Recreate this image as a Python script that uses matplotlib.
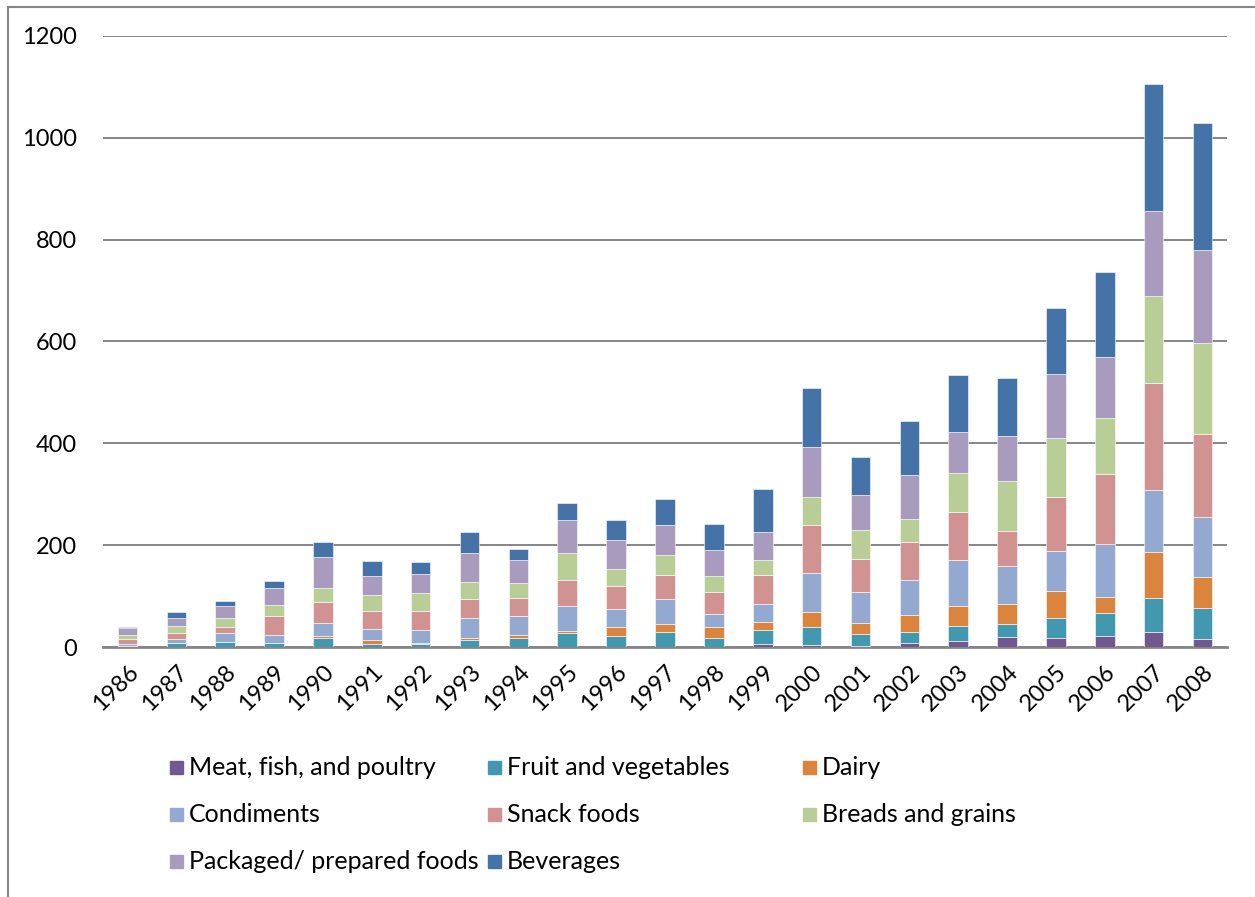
import matplotlib.pyplot as plt
import matplotlib
import numpy as np
from matplotlib.lines import Line2D
from matplotlib.patches import Rectangle

matplotlib.rcParams['font.family'] = ['Lato', 'DejaVu Sans']

years = [str(y) for y in range(1986, 2009)]

series_names = [
    "Meat, fish, and poultry", "Fruit and vegetables", "Dairy",
    "Condiments", "Snack foods", "Breads and grains",
    "Packaged/ prepared foods", "Beverages",
]

meat = [0, 0, 0, 0, 0, 0, 0, 0, 0, 0, 0, 0, 0, 6.5,
        4, 2, 7, 12.5, 19, 17.5, 22, 30, 16]
fruit = [2, 8, 9, 7, 18, 6.5, 5, 14, 18, 28, 22, 29.5, 18, 27.5,
         35, 23, 23, 29.5, 25.5, 40, 44, 67, 60]
dairy = [0, 0, 0, 0, 4.5, 6.5, 3, 3, 5, 3, 18, 15, 22, 15,
         29.5, 22, 33.5, 38, 40, 53, 33, 90, 62]
condiments = [3, 7, 18, 17, 25, 23, 25, 40, 37, 50, 35, 50, 25, 36,
              77, 61, 67.5, 91, 75, 78, 104, 122, 118]
snack = [10, 12, 12, 36, 41, 34, 37, 37, 36, 51, 45, 47, 43, 56,
         94, 64, 75, 94, 69, 106, 136, 210, 162]
breads = [8.5, 15, 18, 23, 27.5, 33, 36, 33, 30, 52, 33, 39, 31, 29,
          56, 58, 45, 77, 97, 115.5, 110.5, 170, 179]
packaged = [13, 14, 24, 32, 60, 37, 37, 58, 44, 65.5, 57, 59, 52, 56,
            97, 69, 87, 81, 89, 126.5, 120, 167, 182.5]
beverages = [2, 12, 8.5, 14, 31, 29.5, 23, 41, 23, 33, 39, 51, 50, 84.5,
             115.5, 75, 105, 112, 114, 129.4, 167, 250, 250]

colors = ["#71588F", "#4198AF", "#DB843D", "#93A9CF",
          "#D19392", "#B9CD96", "#A99BBD", "#4572A7"]

W, H = 1255, 897


def main():
    fig = plt.figure(figsize=(W / 100, H / 100), dpi=100)
    ax = fig.add_axes([103 / W, 250 / H, 1124 / W, 611 / H])

    data = [meat, fruit, dairy, condiments, snack, breads, packaged, beverages]
    x = np.arange(len(years))
    bottom = np.zeros(len(years))
    for name, vals, col in zip(series_names, data, colors):
        vals = np.array(vals, dtype=float)
        ax.bar(x, vals, 0.4, bottom=bottom, color=col, label=name,
               edgecolor='white', linewidth=0.4, zorder=3)
        bottom += vals

    ax.set_xlim(-0.5, len(years) - 0.5)
    ax.set_ylim(0, 1200)
    ax.set_yticks(range(0, 1201, 200))
    ax.yaxis.grid(True, color='#868686', linewidth=1.4, zorder=0)
    ax.set_axisbelow(True)
    for s in ['top', 'right', 'left']:
        ax.spines[s].set_visible(False)
    ax.spines['bottom'].set_color('#868686')
    ax.spines['bottom'].set_linewidth(2)
    ax.tick_params(axis='both', length=0, labelsize=17, colors='black')
    ax.tick_params(axis='y', pad=19)
    ax.set_xticks(x)
    ax.set_xticklabels(years, rotation=45, ha='right', va='top',
                       rotation_mode='anchor')
    ax.tick_params(axis='x', pad=10)

    # legend laid out in equal-width columns, filled row by row
    col_x = [170, 488, 803]
    row_y = [767, 814, 861]
    sq = 13
    for i, (name, col) in enumerate(zip(series_names, colors)):
        cx = col_x[i % 3]
        cy = row_y[i // 3]
        fig.add_artist(Rectangle((cx / W, 1 - (cy + sq / 2) / H), sq / W, sq / H,
                                 transform=fig.transFigure, color=col))
        fig.text((cx + sq + 6) / W, 1 - cy / H, name, fontsize=18,
                 ha='left', va='center')

    # chart area border (top and left edges)
    fig.add_artist(Line2D([8 / W, 8 / W], [0, 1 - 7 / H],
                          transform=fig.transFigure, color='#868686', lw=1.5))
    fig.add_artist(Line2D([8 / W, 1], [1 - 7 / H, 1 - 7 / H],
                          transform=fig.transFigure, color='#868686', lw=1.5))

    plt.savefig('out.png', dpi=100)


if __name__ == "__main__":
    main()
